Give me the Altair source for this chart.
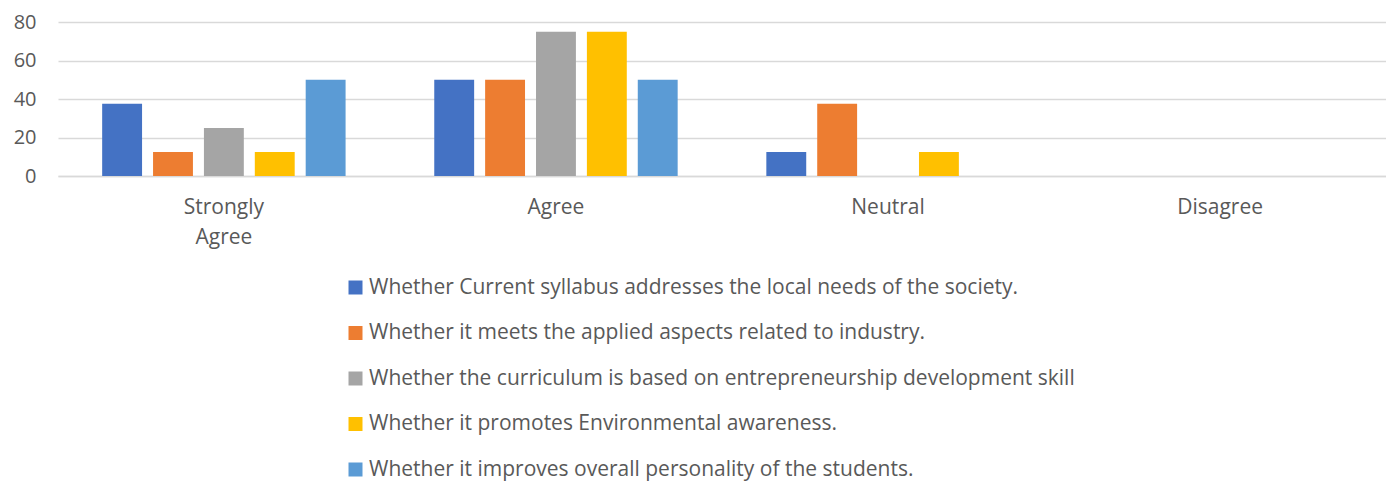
import altair as alt
import pandas as pd

categories = ["Strongly Agree", "Agree", "Neutral", "Disagree"]
series = [
    "Whether Current syllabus addresses the local needs of the society.",
    "Whether it meets the applied aspects related to industry.",
    "Whether the curriculum is based on entrepreneurship development skill",
    "Whether it promotes Environmental awareness.",
    "Whether it improves overall personality of the students.",
]
values = [
    [37.5, 50, 12.5, 0],
    [12.5, 50, 37.5, 0],
    [25, 75, 0, 0],
    [12.5, 75, 12.5, 0],
    [50, 50, 0, 0],
]
colors = ["#4472C4", "#ED7D31", "#A5A5A5", "#FFC000", "#5B9BD5"]

rows = []
for s, vals in zip(series, values):
    for c, v in zip(categories, vals):
        rows.append({"category": c, "series": s, "value": v})
df = pd.DataFrame(rows)

FONT = "Open Sans"
TXT = "#595959"
FS = 21

chart = (
    alt.Chart(df)
    .mark_bar()
    .encode(
        x=alt.X(
            "category:N",
            sort=categories,
            scale=alt.Scale(paddingInner=0.267, paddingOuter=0.133),
            axis=alt.Axis(
                title=None,
                labelAngle=0,
                ticks=False,
                domainColor="#D9D9D9",
                domainWidth=1.5,
                labelFontSize=FS,
                labelFont=FONT,
                labelColor=TXT,
                labelPadding=20,
                labelLineHeight=30,
                labelExpr="datum.label == 'Strongly Agree' ? ['Strongly', 'Agree'] : datum.label",
            ),
        ),
        xOffset=alt.XOffset("series:N", sort=series, scale=alt.Scale(paddingInner=0.216, paddingOuter=0)),
        y=alt.Y(
            "value:Q",
            scale=alt.Scale(domain=[0, 80]),
            axis=alt.Axis(
                title=None,
                values=[0, 20, 40, 60, 80],
                ticks=False,
                domain=False,
                gridColor="#D9D9D9",
                gridWidth=1.5,
                labelFontSize=20,
                labelFont=FONT,
                labelColor=TXT,
                labelPadding=22,
            ),
        ),
        color=alt.Color(
            "series:N",
            sort=series,
            scale=alt.Scale(domain=series, range=colors),
            legend=alt.Legend(
                title=None,
                orient="none",
                legendX=287,
                legendY=255,
                direction="vertical",
                symbolType="square",
                symbolSize=196,
                symbolStrokeWidth=0,
                labelFontSize=FS,
                labelFont=FONT,
                labelColor=TXT,
                labelLimit=1000,
                rowPadding=23.5,
                labelOffset=3,
            ),
        ),
    )
    .properties(
        width=1328,
        height=154,
        autosize=alt.AutoSizeParams(type="none"),
        padding={"left": 50, "top": 14, "right": 0, "bottom": 306},
    )
    .configure_view(stroke=None)
)

chart.save("out.html", embed_options={"renderer": "svg", "actions": False})
